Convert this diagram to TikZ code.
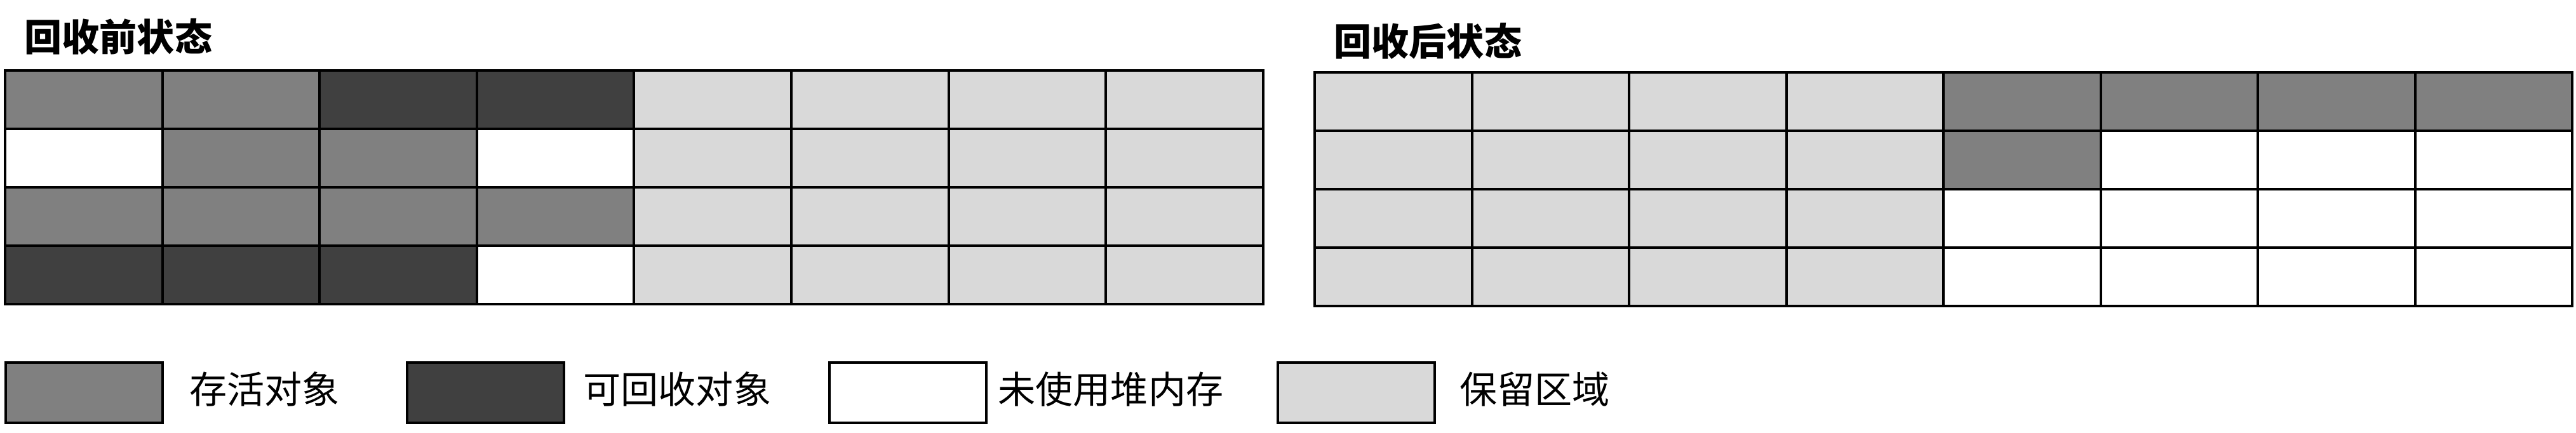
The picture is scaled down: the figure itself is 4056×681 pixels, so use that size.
\documentclass[tikz,border=0pt]{standalone}
\usepackage{fontspec}
\setmainfont{Noto Sans CJK SC}

\definecolor{alive}{gray}{0.5}
\definecolor{dead}{gray}{0.25}
\definecolor{unused}{gray}{1}
\definecolor{keep}{gray}{0.85}

\begin{document}
\begin{tikzpicture}
	[x=0.01cm, y=-0.01cm,
	 every node/.style={inner sep=0pt,font=\fontsize{16.8pt}{18pt}\selectfont},
	 cell/.style={draw,line width=0.04cm,anchor=north west,minimum width=2.476cm,minimum height=0.92cm},
	 keybox/.style={draw,line width=0.04cm,anchor=north west,minimum width=2.47cm,minimum height=0.95cm},
	 title/.style={anchor=west,font=\fontsize{16.8pt}{18pt}\selectfont\bfseries},
	 keytext/.style={anchor=west}]

\useasboundingbox (0,0) rectangle (4056,681);

% before collection
\node [title] (before) at (38,58) {回收前状态};
\foreach \f [count=\k] in {alive,alive,dead,dead,keep,keep,keep,keep}
  \node [cell,fill=\f] (pa\k) at ({6+(\k-1)*247.6},109) {};
\foreach \f [count=\k] in {unused,alive,alive,unused,keep,keep,keep,keep}
  \node [cell,fill=\f] (pb\k) at ({6+(\k-1)*247.6},201) {};
\foreach \f [count=\k] in {alive,alive,alive,alive,keep,keep,keep,keep}
  \node [cell,fill=\f] (pc\k) at ({6+(\k-1)*247.6},293) {};
\foreach \f [count=\k] in {dead,dead,dead,unused,keep,keep,keep,keep}
  \node [cell,fill=\f] (pd\k) at ({6+(\k-1)*247.6},385) {};

% after collection
\node [title] (after) at (2100,65) {回收后状态};
\foreach \f [count=\k] in {keep,keep,keep,keep,alive,alive,alive,alive}
  \node [cell,fill=\f] (qa\k) at ({2068+(\k-1)*247.5},112) {};
\foreach \f [count=\k] in {keep,keep,keep,keep,alive,unused,unused,unused}
  \node [cell,fill=\f] (qb\k) at ({2068+(\k-1)*247.5},204) {};
\foreach \f [count=\k] in {keep,keep,keep,keep,unused,unused,unused,unused}
  \node [cell,fill=\f] (qc\k) at ({2068+(\k-1)*247.5},296) {};
\foreach \f [count=\k] in {keep,keep,keep,keep,unused,unused,unused,unused}
  \node [cell,fill=\f] (qd\k) at ({2068+(\k-1)*247.5},388) {};

% legend
\node [keybox,fill=alive] (key1) at (7,569) {};
\node [keytext] (txt1) at (298,613) {存活对象};
\node [keybox,fill=dead] (key2) at (639,569) {};
\node [keytext] (txt2) at (918,613) {可回收对象};
\node [keybox,fill=unused] (key3) at (1304,569) {};
\node [keytext] (txt3) at (1571,613) {未使用堆内存};
\node [keybox,fill=keep] (key4) at (2010,569) {};
\node [keytext] (txt4) at (2298,613) {保留区域};

\end{tikzpicture}
\end{document}
